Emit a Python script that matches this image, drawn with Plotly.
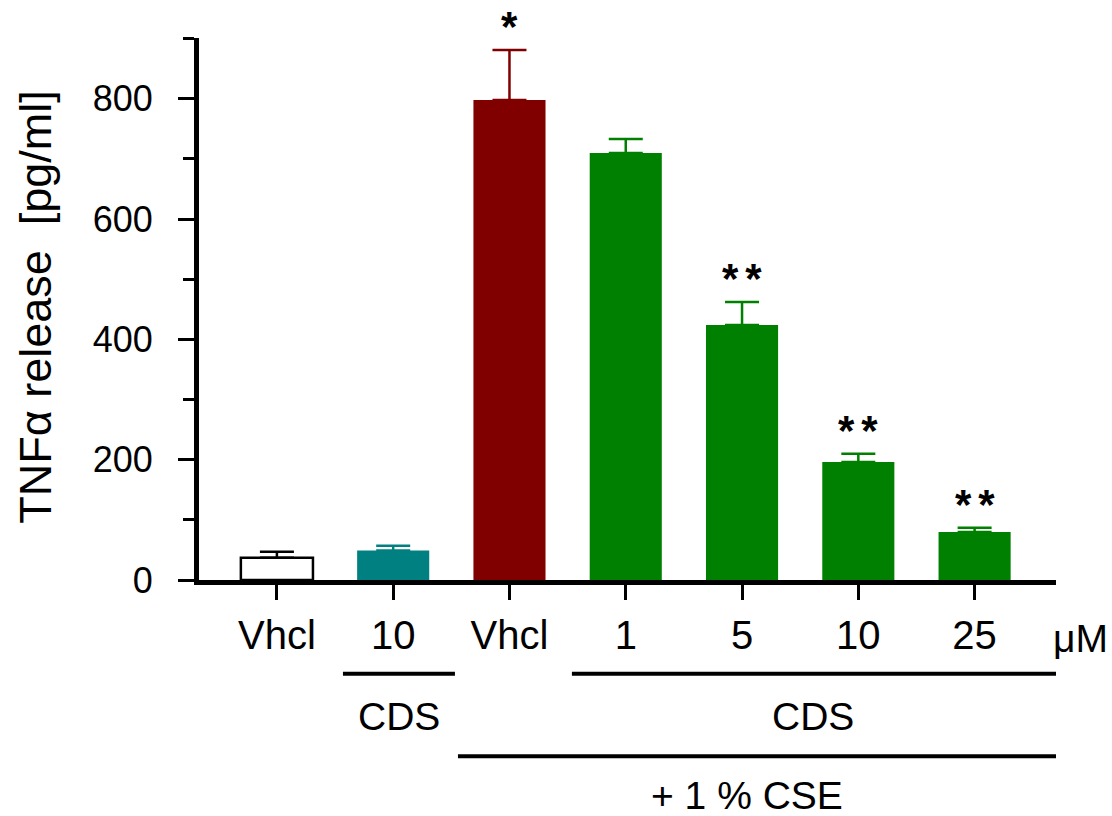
import plotly.graph_objects as go

# ---- data ----
labels = ["Vhcl", "10", "Vhcl", "1", "5", "10", "25"]
values = [37, 49, 798, 710, 424, 196, 80]
errors = [10, 8, 83, 23, 38, 14, 7]
fill_colors = ["#FFFFFF", "#008080", "#800000", "#008000", "#008000", "#008000", "#008000"]
edge_colors = ["#000000", "#008080", "#800000", "#008000", "#008000", "#008000", "#008000"]
stars = ["", "", "*", "", "**", "**", "**"]
positions = list(range(len(labels)))

FONT = "Liberation Sans, Arial, sans-serif"

fig = go.Figure()
for i in positions:
    fig.add_trace(go.Bar(
        x=[positions[i]], y=[values[i]], width=0.62,
        marker=dict(color=fill_colors[i],
                    line=dict(color=edge_colors[i], width=2.5 if fill_colors[i] == "#FFFFFF" else 0)),
        error_y=dict(type="data", symmetric=False, array=[errors[i]], arrayminus=[0],
                     color=edge_colors[i], thickness=2.5, width=17),
        showlegend=False,
    ))

for i in positions:
    if stars[i]:
        fig.add_annotation(x=positions[i], y=values[i] + errors[i], xref="x", yref="y",
                           text="<b>" + "\u2006".join(stars[i]) + "</b>",
                           showarrow=False, yanchor="bottom", yshift=2,
                           height=40, valign="middle",
                           font=dict(family=FONT, size=42, color="black"))

# group lines
line_y1 = -0.173
line_y2 = -0.325
for x0, x1, yy in [(0.568, 1.531, line_y1), (2.537, 6.70, line_y1), (1.557, 6.70, line_y2)]:
    fig.add_shape(type="line", xref="x", yref="paper", x0=x0, x1=x1, y0=yy, y1=yy,
                  line=dict(color="black", width=4))

# group texts
for x, y, t in [(1.049, -0.251, "CDS"), (4.61, -0.251, "CDS"), (4.04, -0.398, "+ 1 % CSE")]:
    fig.add_annotation(x=x, y=y, xref="x", yref="paper", text=t, showarrow=False,
                       xanchor="center", yanchor="middle",
                       font=dict(family=FONT, size=39, color="black"))

# unit label at the right end of the dose row
fig.add_annotation(x=1, y=-0.108, xref="paper", yref="paper", xshift=24,
                   text="\u03bcM", showarrow=False, xanchor="center", yanchor="middle",
                   font=dict(family=FONT, size=39, color="black"))

# y title
fig.add_annotation(x=0, y=0.504, xref="paper", yref="paper", xshift=-163,
                   text="TNF\u03b1 release  [pg/ml]", textangle=-90, showarrow=False,
                   xanchor="center", yanchor="middle",
                   font=dict(family=FONT, size=45, color="black"))

fig.update_layout(
    width=1112, height=816,
    margin=dict(l=199, r=56, t=38, b=236),
    plot_bgcolor="white", paper_bgcolor="white",
    barmode="overlay",
    font=dict(family=FONT, color="black"),
    xaxis=dict(range=[-0.67, 6.70], tickvals=positions, ticktext=labels,
               showline=True, linecolor="black", linewidth=5,
               ticks="outside", ticklen=15, tickwidth=3, tickcolor="black",
               ticklabelstandoff=1,
               tickfont=dict(family=FONT, size=40, color="black"),
               showgrid=False, zeroline=False, fixedrange=True),
    yaxis=dict(range=[0, 901], tickvals=[0, 200, 400, 600, 800],
               showline=True, linecolor="black", linewidth=5,
               ticks="outside", ticklen=16, tickwidth=3, tickcolor="black",
               ticklabelstandoff=18,
               minor=dict(tickvals=[100, 300, 500, 700, 900], ticks="outside",
                          ticklen=11, tickwidth=3, tickcolor="black"),
               tickfont=dict(family=FONT, size=36, color="black"),
               showgrid=False, zeroline=False, fixedrange=True),
)

fig.write_html("out.html")
